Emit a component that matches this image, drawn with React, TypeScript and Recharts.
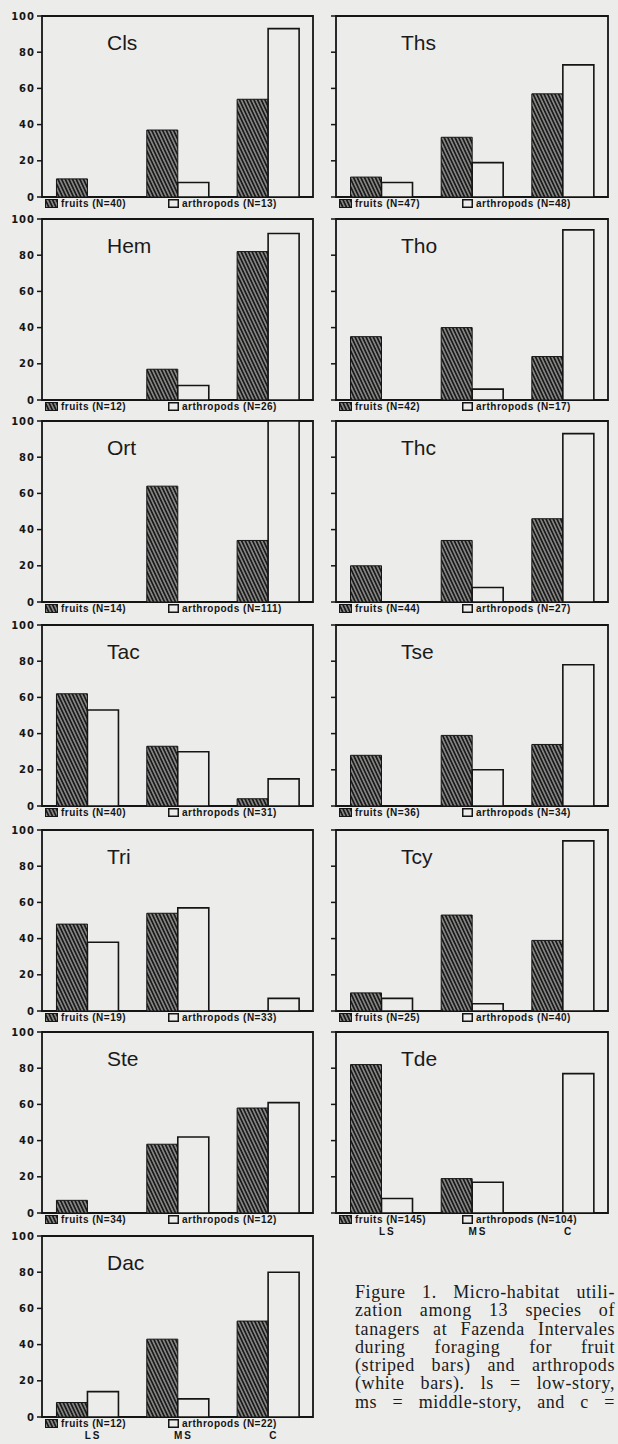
import React from 'react';
import { BarChart, Bar, XAxis, YAxis, ReferenceArea } from 'recharts';

// strata along the x axis
const categories = ['LS', 'MS', 'C'];

// panels in reading order (left, right, left, right ...)
const speciesNames = ['Cls', 'Ths', 'Hem', 'Tho', 'Ort', 'Thc', 'Tac', 'Tse', 'Tri', 'Tcy', 'Ste', 'Tde', 'Dac'];

// % of foraging records per stratum (LS, MS, C)
const fruitPct = [
  [10, 37, 54],
  [11, 33, 57],
  [0, 17, 82],
  [35, 40, 24],
  [0, 64, 34],
  [20, 34, 46],
  [62, 33, 4],
  [28, 39, 34],
  [48, 54, 0],
  [10, 53, 39],
  [7, 38, 58],
  [82, 19, 0],
  [8, 43, 53],
];

const arthropodPct = [
  [0, 8, 93],
  [8, 19, 73],
  [0, 8, 92],
  [0, 6, 94],
  [0, 0, 100],
  [0, 8, 93],
  [53, 30, 15],
  [0, 20, 78],
  [38, 57, 7],
  [7, 4, 94],
  [0, 42, 61],
  [8, 17, 77],
  [14, 10, 80],
];

const fruitN = [40, 47, 12, 42, 14, 44, 40, 36, 19, 25, 34, 145, 12];
const arthropodN = [13, 48, 26, 17, 111, 27, 31, 34, 33, 40, 12, 104, 22];

const yTicks = [0, 20, 40, 60, 80, 100];

const captionLines = [
  'Figure 1. Micro-habitat utili-',
  'zation among 13 species of',
  'tanagers at Fazenda Intervales',
  'during foraging for fruit',
  '(striped bars) and arthropods',
  '(white bars). ls = low-story,',
  'ms = middle-story, and c =',
];

const BG = '#ececea';
const INK = '#151515';
const ROW_TOPS = [16, 219, 421, 625, 830, 1032, 1236];
const PLOT_H = 181;
const LEGEND_FONT = '"Liberation Sans", Arial, sans-serif';

function HatchSwatch() {
  return (
    <svg width={13} height={9} style={{ display: 'block' }}>
      <rect x={0.5} y={0.5} width={12} height={8} fill="url(#hatch)" stroke={INK} strokeWidth={1} />
    </svg>
  );
}

function WhiteSwatch() {
  return (
    <svg width={11} height={9} style={{ display: 'block' }}>
      <rect x={0.75} y={0.75} width={9.5} height={7.5} fill={BG} stroke={INK} strokeWidth={1.5} />
    </svg>
  );
}

function Panel({ index }: { index: number }) {
  const row = Math.floor(index / 2);
  const col = index % 2;
  const showCats = index >= 11;
  const plotTop = ROW_TOPS[row];
  const plotLeft = col === 0 ? 42 : 336;
  const chartLeft = col === 0 ? 0 : 300;
  const plotRight = col === 0 ? 313 : 608;
  const chartW = plotRight + 5 - chartLeft;
  const xAxisH = showCats ? 30 : 8;
  const chartH = 8 + PLOT_H + xAxisH;

  const data = categories.map((cat, k) => ({
    cat,
    fruits: fruitPct[index][k],
    arthropods: arthropodPct[index][k],
  }));

  const legendStyle: React.CSSProperties = {
    position: 'absolute',
    top: plotTop + PLOT_H + 1,
    display: 'flex',
    alignItems: 'center',
    gap: 3,
    fontFamily: LEGEND_FONT,
    fontWeight: 700,
    fontSize: 10,
    letterSpacing: 0.5,
    color: INK,
    lineHeight: '11px',
    whiteSpace: 'nowrap',
  };

  return (
    <>
      <div style={{ position: 'absolute', left: chartLeft, top: plotTop - 8 }}>
        <BarChart
          width={chartW}
          height={chartH}
          data={data}
          margin={{ top: 8, right: 5, left: 0, bottom: 0 }}
          barCategoryGap="16%"
          barGap={0}
        >
          <XAxis
            dataKey="cat"
            axisLine={false}
            tickLine={false}
            height={xAxisH}
            tickSize={0}
            tickMargin={15}
            tick={
              showCats
                ? { fill: INK, fontSize: 10, fontWeight: 700, fontFamily: LEGEND_FONT, letterSpacing: 2, dx: 6 }
                : false
            }
          />
          <YAxis
            domain={[0, 100]}
            ticks={yTicks}
            interval={0}
            width={plotLeft - chartLeft}
            axisLine={false}
            tickLine={{ stroke: INK, strokeWidth: 1.5 }}
            tickSize={5}
            tickMargin={2}
            tickFormatter={col === 1 ? () => '' : undefined}
            tick={{ fill: INK, fontSize: 10, fontWeight: 700, fontFamily: '"DejaVu Sans", sans-serif', letterSpacing: 1 }}
          />
          <ReferenceArea y1={0} y2={100} fill="none" stroke={INK} strokeWidth={1.8} ifOverflow="visible" />
          <Bar dataKey="fruits" fill="url(#hatch)" stroke={INK} strokeWidth={1} isAnimationActive={false} />
          <Bar dataKey="arthropods" fill={BG} stroke={INK} strokeWidth={1.6} isAnimationActive={false} />
        </BarChart>
      </div>

      <div
        style={{
          position: 'absolute',
          left: plotLeft + 65,
          top: plotTop + 16,
          fontFamily: '"Liberation Sans", Arial, sans-serif',
          fontSize: 21,
          lineHeight: '21px',
          color: '#1a1a1a',
        }}
      >
        {speciesNames[index]}
      </div>

      <div style={{ ...legendStyle, left: plotLeft + 3 }}>
        <HatchSwatch />
        <span>{`fruits (N=${fruitN[index]})`}</span>
      </div>
      <div style={{ ...legendStyle, left: plotLeft + 126 }}>
        <WhiteSwatch />
        <span>{`arthropods (N=${arthropodN[index]})`}</span>
      </div>
    </>
  );
}

export default function App() {
  return (
    <div
      style={{
        position: 'absolute',
        left: 0,
        top: 0,
        width: 618,
        height: 1444,
        overflow: 'hidden',
        background: BG,
      }}
    >
      <svg width={0} height={0} style={{ position: 'absolute' }}>
        <defs>
          <pattern id="hatch" patternUnits="userSpaceOnUse" width={3.3} height={10} patternTransform="rotate(-25)">
            <rect x={0} y={0} width={3.3} height={10} fill="#1b1b1b" />
            <line x1={1.65} y1={0} x2={1.65} y2={10} stroke="#e8e8e6" strokeWidth={0.85} />
          </pattern>
        </defs>
      </svg>

      {speciesNames.map((_, i) => (
        <Panel key={speciesNames[i]} index={i} />
      ))}

      <div
        style={{
          position: 'absolute',
          left: 355,
          top: 1283,
          width: 260,
          fontFamily: '"Liberation Serif", "Times New Roman", serif',
          fontSize: 18,
          letterSpacing: 0.6,
          lineHeight: '18.3px',
          color: '#1a1a1a',
        }}
      >
        {captionLines.map((line) => (
          <div key={line} style={{ textAlign: 'justify', textAlignLast: 'justify', whiteSpace: 'nowrap' }}>
            {line}
          </div>
        ))}
      </div>
    </div>
  );
}
